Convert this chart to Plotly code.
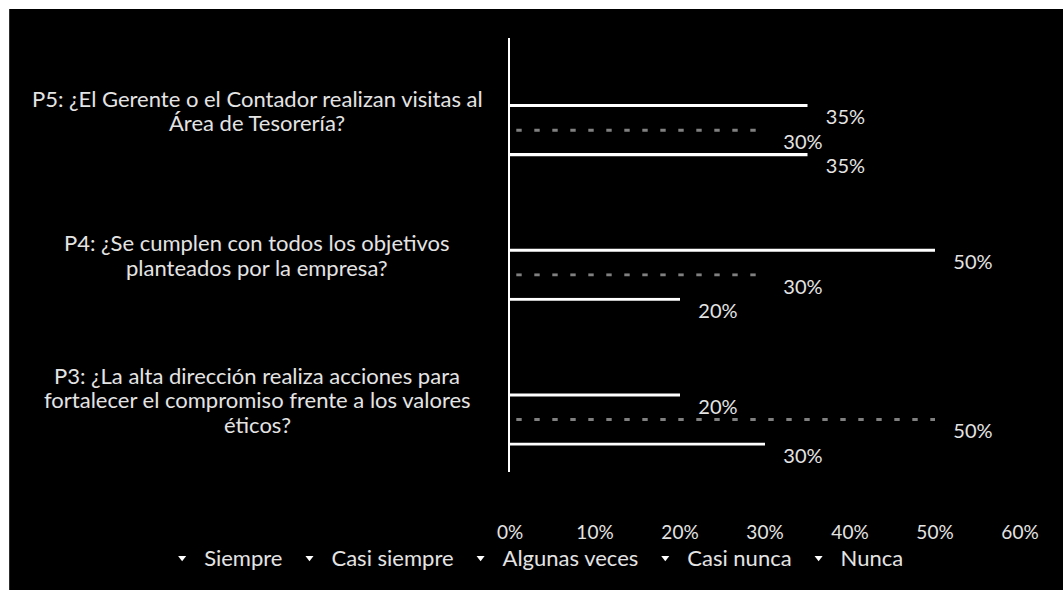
import plotly.graph_objects as go

# Survey answers (share of respondents) per question
preguntas = [
    "P3: ¿La alta dirección realiza acciones para<br>fortalecer el compromiso frente a los valores<br>éticos?",
    "P4: ¿Se cumplen con todos los objetivos<br>planteados por la empresa?",
    "P5: ¿El Gerente o el Contador realizan visitas al<br>Área de Tesorería?",
]
categorias = ["P3", "P4", "P5"]
respuestas = ["Siempre", "Casi siempre", "Algunas veces", "Casi nunca", "Nunca"]
siempre = [0.30, 0.20, 0.35]
casi_siempre = [0.50, 0.30, 0.30]
algunas_veces = [0.20, 0.50, 0.35]
casi_nunca = [0.0, 0.0, 0.0]
nunca = [0.0, 0.0, 0.0]
valores = [siempre, casi_siempre, algunas_veces, casi_nunca, nunca]
x_ticks = [0, 0.1, 0.2, 0.3, 0.4, 0.5, 0.6]

TXT = "#e4e4e4"
FONT = "Lato"
SLOT = 0.1694          # height of one bar slot (category units)
START = -0.465         # bottom of the first slot relative to category centre
EDGE = 0.021           # thickness of the bright top edge of each bar
LINE_H = 24.5          # line spacing of the category labels (px)

fig = go.Figure()

for i, (name, vals) in enumerate(zip(respuestas, valores)):
    off = START + i * SLOT
    # full-height bar (dark) carrying the value label
    fig.add_trace(go.Bar(
        y=categorias, x=vals, orientation="h",
        offset=off, width=SLOT,
        marker=dict(color="black", line=dict(width=0)),
        text=["\u00a0\u00a0\u00a0" + f"{v:.0%}" if v > 0 else "" for v in vals],
        textposition="outside", cliponaxis=False, constraintext="none",
        textfont=dict(color=TXT, size=20, family=FONT),
        showlegend=False, hoverinfo="skip",
    ))
    # bright edge along the top of each bar
    if name == "Casi siempre":
        marker = dict(color="black", line=dict(width=0),
                      pattern=dict(shape="|", fgcolor="white", bgcolor="black",
                                   size=18, solidity=0.3))
    else:
        marker = dict(color="white", line=dict(width=0))
    fig.add_trace(go.Bar(
        y=categorias, x=vals, orientation="h",
        offset=off + SLOT - EDGE, width=EDGE,
        marker=marker, showlegend=False, hoverinfo="skip",
    ))
    # legend entry
    fig.add_trace(go.Scatter(
        x=[None], y=[None], mode="markers", name=name,
        marker=dict(symbol="triangle-down", size=7, color="white"),
    ))

# category labels: centred lines left of the axis
for cat, label in zip(categorias, preguntas):
    lines = label.split("<br>")
    n = len(lines)
    for k, line in enumerate(lines):
        fig.add_annotation(
            x=-0.496, xref="paper", y=cat, yref="y",
            yshift=((n - 1) / 2 - k) * LINE_H,
            text=line, showarrow=False, align="center",
            xanchor="center", yanchor="middle",
            font=dict(color=TXT, size=22, family=FONT),
        )

# dark chart area inside a light outer frame
fig.add_shape(type="rect", xref="paper", yref="paper",
              x0=-0.982, x1=1.2, y0=-0.6, y1=1.0668,
              fillcolor="black", line=dict(width=0), layer="below")

fig.update_layout(
    width=1063, height=590,
    margin=dict(l=510, r=43, t=38, b=118, autoexpand=False),
    paper_bgcolor="white", plot_bgcolor="black",
    barmode="overlay",
    font=dict(family=FONT, color=TXT, size=19),
    xaxis=dict(range=[0, 0.6], tickvals=x_ticks, tickformat=".0%",
               showgrid=False, zeroline=False, showline=False,
               ticklabelstandoff=47, tickfont=dict(size=19, color=TXT)),
    yaxis=dict(categoryorder="array", categoryarray=categorias,
               showticklabels=False, showgrid=False, zeroline=False,
               showline=True, linecolor="white", linewidth=2),
    legend=dict(orientation="h",
                x=-0.686, xanchor="left", y=-0.198, yanchor="middle",
                itemwidth=34,
                font=dict(size=22, color=TXT, family=FONT),
                bgcolor="rgba(0,0,0,0)"),
)

fig.write_html("out.html")
